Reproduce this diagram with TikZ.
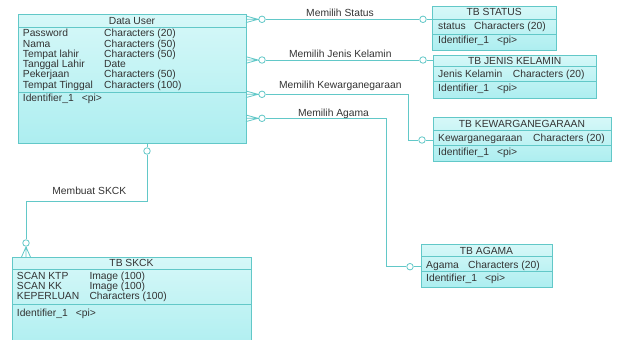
\documentclass[tikz,border=0pt]{standalone}
\usepackage{fontspec}
\setmainfont{Liberation Sans}
\usetikzlibrary{calc}
\definecolor{edgec}{HTML}{62C8C8}
\definecolor{inkc}{HTML}{333333}
\definecolor{fillA}{HTML}{D6F8F8}
\definecolor{fillB}{HTML}{ADEEF0}
\tikzset{
  entity/.style={rectangle, draw=edgec, line width=0.8pt, top color=fillA, bottom color=fillB,
                 inner sep=0pt, outer sep=0pt, anchor=north west},
  sepline/.style={draw=edgec, line width=0.7pt},
  conn/.style={draw=edgec, line width=0.8pt},
  onec/.style={circle, draw=edgec, line width=0.8pt, fill=white, minimum size=6.5pt, inner sep=0pt},
  txt/.style={text=inkc, font=\fontsize{10.3}{12}\selectfont, inner sep=0pt, anchor=base west},
  ttl/.style={txt, anchor=base},
  crowE/.pic={\draw[conn] (0,-3.3) -- (12,0) -- (0,3.3) (0,0) -- (12,0);},
  crowS/.pic={\draw[conn] (0,0) -- (-4.5,10) (0,0) -- (0,10) (0,0) -- (4.5,10);}
}
\begin{document}
\begin{tikzpicture}[x=1pt,y=-1pt]
\useasboundingbox (0,0) rectangle (622,340);

% ---------- Data User ----------
\node[entity, minimum width=228pt, minimum height=129pt] (du) at (18,14) {};
\draw[sepline] (18,27) -- (246,27);
\draw[sepline] (18,92) -- (246,92);
\node[ttl] (du-t) at (132,24) {Data User};
\foreach \a/\b [count=\i] in {Password/Characters (20),Nama/Characters (50),Tempat lahir/Characters (50),Tanggal Lahir/Date,Pekerjaan/Characters (50),Tempat Tinggal/Characters (100)}{
  \node[txt] (du-a\i) at (22.7,{26.4+10.3*\i}) {\a};
  \node[txt] (du-b\i) at (104,{26.4+10.3*\i}) {\b};
}
\node[txt] (du-id) at (22.7,101.7) {Identifier\_1};
\node[txt] (du-pi) at (81.7,101.7) {<pi>};

% ---------- TB STATUS ----------
\node[entity, minimum width=123.5pt, minimum height=43.3pt] (st) at (432.5,6.7) {};
\draw[sepline] (432.5,19.3) -- (556,19.3);
\draw[sepline] (432.5,34) -- (556,34);
\node[ttl] (st-t) at (494.2,16) {TB STATUS};
\node[txt] (st-a) at (438,29.3) {status};
\node[txt] (st-b) at (474,29.3) {Characters (20)};
\node[txt] (st-id) at (438,43) {Identifier\_1};
\node[txt] (st-pi) at (497,43) {<pi>};

% ---------- TB JENIS KELAMIN ----------
\node[entity, minimum width=163.5pt, minimum height=43.3pt] (jk) at (433,55) {};
\draw[sepline] (433,66.7) -- (596.5,66.7);
\draw[sepline] (433,81.7) -- (596.5,81.7);
\node[ttl] (jk-t) at (514.7,64) {TB JENIS KELAMIN};
\node[txt] (jk-a) at (438,77.7) {Jenis Kelamin};
\node[txt] (jk-b) at (512.7,77.7) {Characters (20)};
\node[txt] (jk-id) at (438,91) {Identifier\_1};
\node[txt] (jk-pi) at (497,91) {<pi>};

% ---------- TB KEWARGANEGARAAN ----------
\node[entity, minimum width=178pt, minimum height=43.7pt] (kw) at (433,117.3) {};
\draw[sepline] (433,130) -- (611,130);
\draw[sepline] (433,145.7) -- (611,145.7);
\node[ttl] (kw-t) at (522,127.3) {TB KEWARGANEGARAAN};
\node[txt] (kw-a) at (438,141) {Kewarganegaraan};
\node[txt] (kw-b) at (533,141) {Characters (20)};
\node[txt] (kw-id) at (438,155) {Identifier\_1};
\node[txt] (kw-pi) at (497,155) {<pi>};

% ---------- TB AGAMA ----------
\node[entity, minimum width=131pt, minimum height=43pt] (ag) at (421,244.3) {};
\draw[sepline] (421,256.7) -- (552,256.7);
\draw[sepline] (421,271.7) -- (552,271.7);
\node[ttl] (ag-t) at (486.5,254) {TB AGAMA};
\node[txt] (ag-a) at (426,268.3) {Agama};
\node[txt] (ag-b) at (468,268.3) {Characters (20)};
\node[txt] (ag-id) at (426,281.7) {Identifier\_1};
\node[txt] (ag-pi) at (485,281.7) {<pi>};

% ---------- TB SKCK ----------
\node[entity, minimum width=239pt, minimum height=95pt] (sk) at (12,257) {};
\draw[sepline] (12,269) -- (251,269);
\draw[sepline] (12,304) -- (251,304);
\node[ttl] (sk-t) at (131.5,266.5) {TB SKCK};
\foreach \a/\b [count=\i] in {SCAN KTP/Image (100),SCAN KK/Image (100),KEPERLUAN/Characters (100)}{
  \node[txt] (sk-a\i) at (16.7,{269+10.3*\i}) {\a};
  \node[txt] (sk-b\i) at (89.3,{269+10.3*\i}) {\b};
}
\node[txt] (sk-id) at (16.7,316.7) {Identifier\_1};
\node[txt] (sk-pi) at (75.7,316.7) {<pi>};

% ---------- helper coordinates ----------
\coordinate (h1) at (0,19.3);
\coordinate (h2) at (0,60);
\coordinate (h3) at (0,94.3);
\coordinate (h4) at (0,118.3);
\coordinate (p1) at (du.east |- h1);
\coordinate (p2) at (du.east |- h2);
\coordinate (p3) at (du.east |- h3);
\coordinate (p4) at (du.east |- h4);

% Memilih Status
\pic at (p1) {crowE};
\node[onec] (c1a) at ($(p1)+(16,0)$) {};
\node[onec] (c1b) at (423,19.3) {};
\draw[conn] ($(p1)+(12,0)$) -- (c1a);
\draw[conn] (c1a) -- (c1b);
\draw[conn] (c1b) -- (st.west |- c1b);
\node[ttl] (l1) at (340,16.7) {Memilih Status};

% Memilih Jenis Kelamin
\pic at (p2) {crowE};
\node[onec] (c2a) at ($(p2)+(16,0)$) {};
\node[onec] (c2b) at (423,60) {};
\draw[conn] ($(p2)+(12,0)$) -- (c2a);
\draw[conn] (c2a) -- (c2b);
\draw[conn] (c2b) -- (jk.west |- c2b);
\node[ttl] (l2) at (340.3,57) {Memilih Jenis Kelamin};

% Memilih Kewarganegaraan
\pic at (p3) {crowE};
\node[onec] (c3a) at ($(p3)+(16,0)$) {};
\node[onec] (c3b) at (422,140) {};
\coordinate (k1) at (408,94.3);
\draw[conn] ($(p3)+(12,0)$) -- (c3a);
\draw[conn] (c3a) -- (k1) |- (c3b);
\draw[conn] (c3b) -- (kw.west |- c3b);
\node[ttl] (l3) at (340.3,88.3) {Memilih Kewarganegaraan};

% Memilih Agama
\pic at (p4) {crowE};
\node[onec] (c4a) at ($(p4)+(16,0)$) {};
\node[onec] (c4b) at (410,266.7) {};
\coordinate (k2) at (386,118.3);
\draw[conn] ($(p4)+(12,0)$) -- (c4a);
\draw[conn] (c4a) -- (k2) |- (c4b);
\draw[conn] (c4b) -- (ag.west |- c4b);
\node[ttl] (l4) at (333.5,116) {Memilih Agama};

% Membuat SKCK
\coordinate (x1) at (147,0);
\coordinate (m1) at (147,201);
\coordinate (m2) at (26,201);
\node[onec] (c5a) at (147,151) {};
\node[onec] (c5b) at (26,243) {};
\coordinate (ft) at (26,247);
\draw[conn] (du.south -| x1) -- (c5a);
\draw[conn] (c5a) -- (m1) -- (m2) -- (c5b);
\draw[conn] (c5b) -- (ft);
\pic at (ft) {crowS};
\node[ttl] (l5) at (89.3,194.3) {Membuat SKCK};
\end{tikzpicture}
\end{document}
